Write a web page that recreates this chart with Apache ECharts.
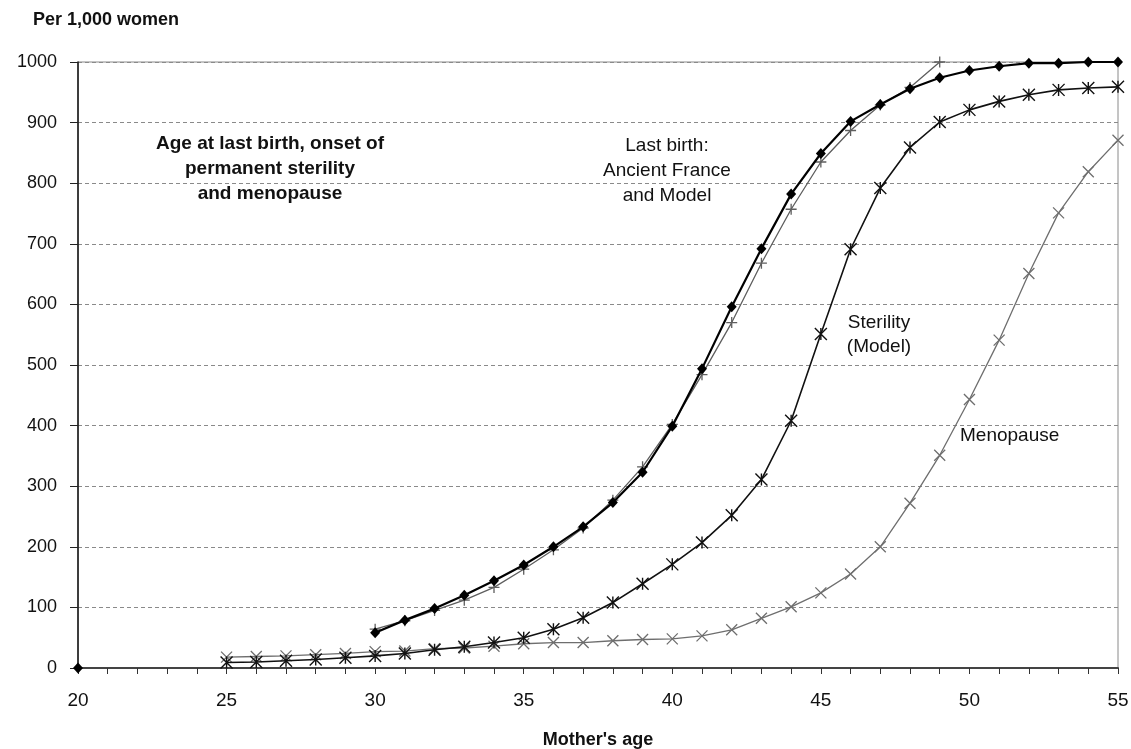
<!DOCTYPE html>
<html lang="en">
<head>
    <meta charset="UTF-8">
    <title>Age at last birth, sterility and menopause</title>
    <script src="https://cdn.jsdelivr.net/npm/echarts@6/dist/echarts.min.js"></script>
    <style>
        html, body { margin: 0; padding: 0; background: #fff; }
    </style>
</head>
<body>
    <div id="main" style="width: 1131px;height:749px;"></div>
    <script type="text/javascript">
        // mother's age, one entry per year
        var ages = [20, 21, 22, 23, 24, 25, 26, 27, 28, 29,
                    30, 31, 32, 33, 34, 35, 36, 37, 38, 39,
                    40, 41, 42, 43, 44, 45, 46, 47, 48, 49,
                    50, 51, 52, 53, 54, 55];

        // per 1,000 women (null = no point)
        var lastBirthFrance = [0, null, null, null, null, null, null, null, null, null,
                    58, 79, 98, 120, 144, 170, 200, 233, 273, 323,
                    399, 494, 596, 692, 782, 849, 902, 930, 956, 974,
                    986, 993, 998, 998, 1000, 1000];
        var lastBirthModel = [null, null, null, null, null, null, null, null, null, null,
                    64, 78, 95, 112, 133, 163, 195, 231, 277, 332,
                    402, 484, 570, 668, 757, 835, 887, 929, 958, 1000,
                    null, null, null, null, null, null];
        var sterility = [null, null, null, null, null, 9, 10, 12, 14, 17,
                    20, 24, 30, 35, 42, 50, 64, 83, 108, 139,
                    171, 207, 252, 311, 408, 551, 691, 792, 859, 901,
                    921, 935, 946, 954, 957, 959];
        var menopause = [null, null, null, null, null, 18, 19, 20, 22, 24,
                    27, 28, 32, 33, 36, 40, 42, 42, 45, 47,
                    48, 53, 63, 82, 101, 124, 155, 200, 272, 351,
                    443, 541, 651, 751, 819, 871];

        var yTicks = [0, 100, 200, 300, 400, 500, 600, 700, 800, 900, 1000];

        function pairs(values) {
            return ages.map(function (a, i) {
                return [a, values[i] === null ? '-' : values[i]];
            });
        }

        var FONT = '"Liberation Sans", Arial, sans-serif';
        var plusPath = 'path://M5,0L5,10M0,5L10,5';
        var crossPath = 'path://M0,0L10,10M10,0L0,10';
        var starPath = 'path://M0,0L10,10M10,0L0,10M5,0L5,10';

        var myChart = echarts.init(document.getElementById('main'));

        var option = {
            animation: false,
            backgroundColor: '#fff',
            grid: {
                left: 78,
                right: 13,
                top: 62,
                bottom: 81,
                outerBoundsMode: 'none',
                containLabel: false,
                show: true,
                borderColor: '#8a8a8a',
                borderWidth: 1
            },
            xAxis: {
                type: 'value',
                min: 20,
                max: 55,
                interval: 5,
                name: "Mother's age",
                nameLocation: 'middle',
                nameGap: 63,
                nameTextStyle: {
                    fontFamily: FONT,
                    fontWeight: 'bold',
                    fontSize: 18,
                    color: '#111'
                },
                axisLine: {
                    onZero: false,
                    lineStyle: { color: '#444', width: 2 }
                },
                axisTick: {
                    length: 6,
                    lineStyle: { color: '#333', width: 1 }
                },
                minorTick: {
                    show: true,
                    splitNumber: 5,
                    length: 6,
                    lineStyle: { color: '#333', width: 1 }
                },
                axisLabel: {
                    margin: 23,
                    fontFamily: FONT,
                    fontSize: 19,
                    color: '#111'
                },
                splitLine: { show: false }
            },
            yAxis: {
                type: 'value',
                min: yTicks[0],
                max: yTicks[yTicks.length - 1],
                interval: 100,
                axisLine: {
                    show: true,
                    lineStyle: { color: '#111', width: 1.5 }
                },
                axisTick: {
                    show: true,
                    length: 8,
                    lineStyle: { color: '#222', width: 1 }
                },
                axisLabel: {
                    margin: 21,
                    fontFamily: FONT,
                    fontSize: 18,
                    color: '#111',
                    formatter: function (v) { return String(v); }
                },
                splitLine: {
                    show: true,
                    lineStyle: { color: '#8a8a8a', width: 1, type: [4, 3] }
                }
            },
            graphic: [
                {
                    type: 'text', left: 33, top: 11,
                    style: { text: 'Per 1,000 women', font: 'bold 18px ' + FONT, fill: '#111' }
                },
                {
                    type: 'text', x: 270, y: 131,
                    style: {
                        text: 'Age at last birth, onset of\npermanent sterility\nand menopause',
                        font: 'bold 19px ' + FONT, fill: '#111',
                        align: 'center', lineHeight: 25
                    }
                },
                {
                    type: 'text', x: 667, y: 133,
                    style: {
                        text: 'Last birth:\nAncient France\nand Model',
                        font: '19px ' + FONT, fill: '#111',
                        align: 'center', lineHeight: 25
                    }
                },
                {
                    type: 'text', x: 879, y: 311,
                    style: {
                        text: 'Sterility\n(Model)',
                        font: '19px ' + FONT, fill: '#111',
                        align: 'center', lineHeight: 24
                    }
                },
                {
                    type: 'text', x: 960, y: 426,
                    style: { text: 'Menopause', font: '19px ' + FONT, fill: '#111' }
                }
            ],
            series: [
                {
                    name: 'Menopause',
                    type: 'line',
                    data: pairs(menopause),
                    symbol: crossPath,
                    symbolSize: 11,
                    lineStyle: { color: '#6e6e6e', width: 1.3 },
                    itemStyle: { color: 'rgba(0,0,0,0)', borderColor: '#6e6e6e', borderWidth: 1.3 },
                    z: 2
                },
                {
                    name: 'Sterility (Model)',
                    type: 'line',
                    data: pairs(sterility),
                    symbol: starPath,
                    symbolSize: 12,
                    lineStyle: { color: '#111', width: 1.6 },
                    itemStyle: { color: 'rgba(0,0,0,0)', borderColor: '#111', borderWidth: 1.4 },
                    z: 3
                },
                {
                    name: 'Last birth: Model',
                    type: 'line',
                    data: pairs(lastBirthModel),
                    symbol: plusPath,
                    symbolSize: 11,
                    lineStyle: { color: '#5e5e5e', width: 1.3 },
                    itemStyle: { color: 'rgba(0,0,0,0)', borderColor: '#5e5e5e', borderWidth: 1.3 },
                    z: 4
                },
                {
                    name: 'Last birth: Ancient France',
                    type: 'line',
                    data: pairs(lastBirthFrance),
                    symbol: 'diamond',
                    symbolSize: [10, 11],
                    lineStyle: { color: '#000', width: 2.2 },
                    itemStyle: { color: '#000' },
                    z: 5
                }
            ]
        };

        myChart.setOption(option);
    </script>
</body>
</html>
